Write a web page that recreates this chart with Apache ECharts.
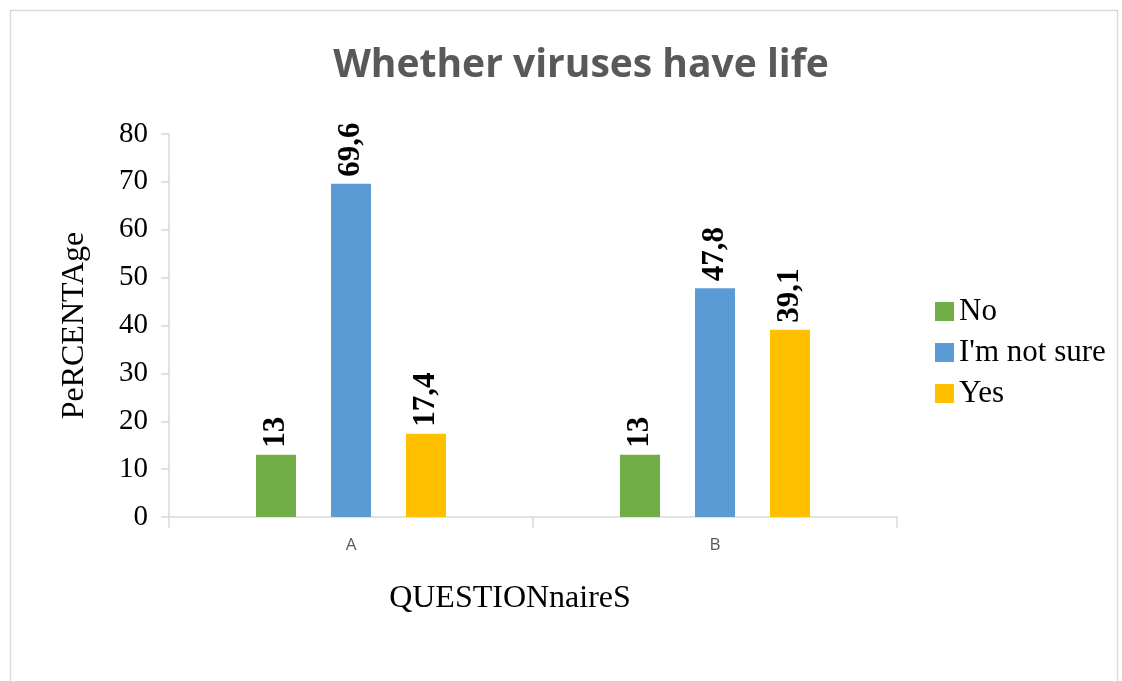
<!DOCTYPE html>
<html>
<head>
<meta charset="utf-8">
<script src="https://cdn.jsdelivr.net/npm/echarts@6/dist/echarts.min.js"></script>
<style>html,body{margin:0;padding:0;background:#fff;}#c{width:1122px;height:681px;}</style>
</head>
<body>
<div id="c"></div>
<script>
var categories = ['A', 'B'];
var seriesNames = ['No', "I'm not sure", 'Yes'];
var noValues = [13, 13];
var notSureValues = [69.6, 47.8];
var yesValues = [17.4, 39.1];
var yTicks = [0, 10, 20, 30, 40, 50, 60, 70, 80];

var colors = ['#70ad47', '#5b9bd5', '#ffc000'];
var serif = 'Liberation Serif';

function fmt(p) { return String(p.value).replace('.', ','); }

function mkSeries(name, data, color) {
  return {
    name: name,
    type: 'bar',
    data: data,
    barWidth: 40,
    barGap: '87.5%',
    itemStyle: { color: color },
    label: {
      show: true,
      position: 'top',
      rotate: 90,
      align: 'left',
      verticalAlign: 'middle',
      distance: 7,
      formatter: fmt,
      fontFamily: serif,
      fontWeight: 'bold',
      fontSize: 31,
      color: '#000'
    }
  };
}

var chart = echarts.init(document.getElementById('c'));
chart.setOption({
  animation: false,
  backgroundColor: '#fff',
  color: colors,
  title: {
    text: 'Whether viruses have life',
    left: 576,
    textAlign: 'center',
    top: 41,
    textStyle: { fontFamily: 'Open Sans', fontWeight: 'bold', fontSize: 39, color: '#595959' }
  },
  graphic: [{
    type: 'rect',
    shape: { x: 10.5, y: 10.5, width: 1107, height: 700 },
    style: { fill: 'none', stroke: '#d9d9d9', lineWidth: 1.5 },
    silent: true
  }],
  legend: {
    orient: 'vertical',
    left: 930,
    top: 291,
    itemWidth: 19,
    itemHeight: 19,
    itemGap: 10,
    icon: 'rect',
    data: seriesNames,
    textStyle: { fontFamily: serif, fontSize: 31, color: '#000' }
  },
  grid: { left: 169, right: 225, top: 134, bottom: 164 },
  xAxis: {
    type: 'category',
    data: categories,
    name: 'QUESTIONnaireS',
    nameLocation: 'middle',
    nameGap: 66,
    nameTextStyle: { fontFamily: serif, fontSize: 32, color: '#000', padding: [0, 46, 0, 0] },
    axisLine: { lineStyle: { color: '#d9d9d9', width: 1.5 } },
    axisTick: { show: true, length: 11, lineStyle: { color: '#d9d9d9', width: 1.5 } },
    axisLabel: { margin: 20, fontFamily: 'Open Sans', fontSize: 17, color: '#595959' }
  },
  yAxis: {
    type: 'value',
    min: yTicks[0],
    max: yTicks[yTicks.length - 1],
    interval: 10,
    name: 'PeRCENTAge',
    nameLocation: 'middle',
    nameGap: 78,
    nameTextStyle: { fontFamily: serif, fontSize: 32, color: '#000' },
    axisLine: { show: true, lineStyle: { color: '#d9d9d9', width: 1.5 } },
    axisTick: { show: true, length: 8, lineStyle: { color: '#d9d9d9', width: 1.5 } },
    splitLine: { show: false },
    axisLabel: { margin: 21, fontFamily: serif, fontSize: 29, color: '#000' }
  },
  series: [
    mkSeries(seriesNames[0], noValues, colors[0]),
    mkSeries(seriesNames[1], notSureValues, colors[1]),
    mkSeries(seriesNames[2], yesValues, colors[2])
  ]
});
</script>
</body>
</html>
